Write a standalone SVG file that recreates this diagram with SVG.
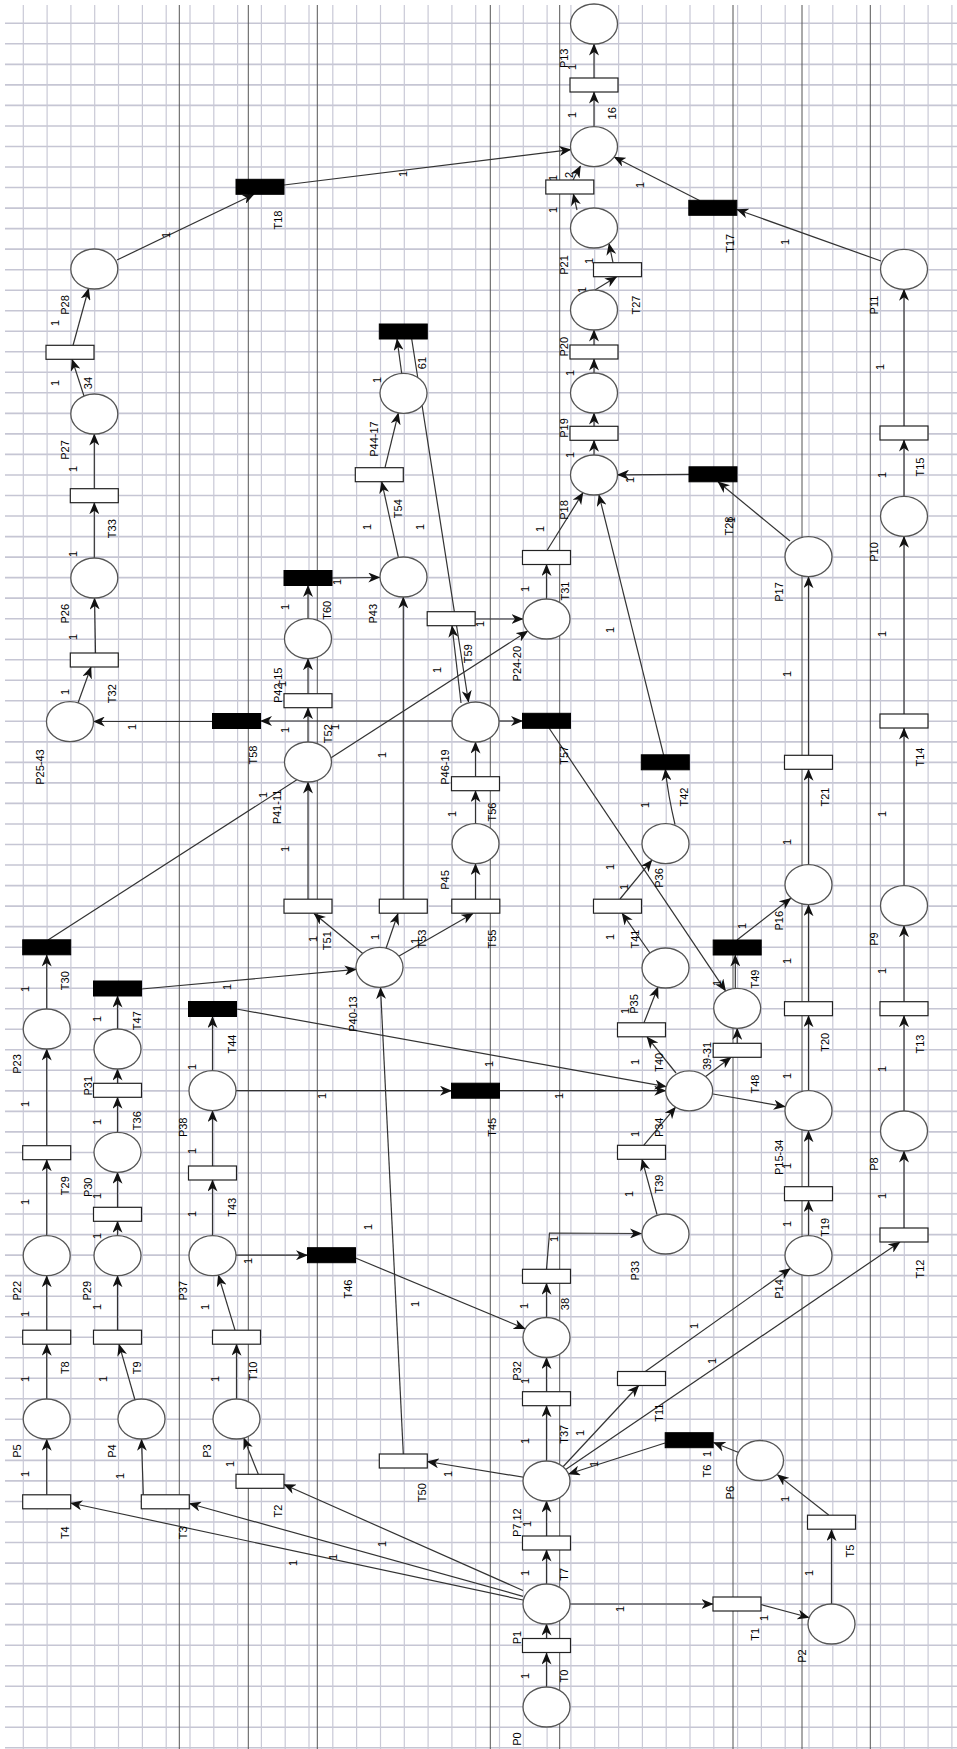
<svg xmlns="http://www.w3.org/2000/svg" width="957" height="1749" viewBox="0 0 957 1749">
<defs>
<marker id="ah" viewBox="0 0 12 10" refX="11.5" refY="5" markerWidth="12" markerHeight="10" markerUnits="userSpaceOnUse" orient="auto"><path d="M0,0 L12,5 L0,10 L3.5,5 z" fill="#111"/></marker>
<style>
.gh{stroke:#c6c6d4;stroke-width:1.6;fill:none}
.gv{stroke:#c9c9d6;stroke-width:1.2;fill:none}
.dk{stroke:#555;stroke-width:1;fill:none}
.a{stroke:#333;stroke-width:1.2;fill:none;marker-end:url(#ah)}
.p{fill:#fff;stroke:#555;stroke-width:1.3}
.t{fill:#fff;stroke:#222;stroke-width:1.2}
.tb{fill:#000;stroke:#000;stroke-width:1}
text{font-family:"Liberation Sans",Arial,sans-serif;font-size:11px;fill:#000;text-anchor:middle;dominant-baseline:central}
</style>
</defs>
<rect width="957" height="1749" fill="#fff"/>
<g id="grid">
<path class="gh" d="M5 23.3h952M5 43.8h952M5 64.4h952M5 84.9h952M5 105.4h952M5 126h952M5 146.5h952M5 167h952M5 187.5h952M5 208.1h952M5 228.6h952M5 249.1h952M5 269.7h952M5 290.2h952M5 310.7h952M5 331.3h952M5 351.8h952M5 372.3h952M5 392.8h952M5 413.4h952M5 433.9h952M5 454.4h952M5 475h952M5 495.5h952M5 516h952M5 536.6h952M5 557.1h952M5 577.6h952M5 598.1h952M5 618.7h952M5 639.2h952M5 659.7h952M5 680.3h952M5 700.8h952M5 721.3h952M5 741.9h952M5 762.4h952M5 782.9h952M5 803.4h952M5 824h952M5 844.5h952M5 865h952M5 885.6h952M5 906.1h952M5 926.6h952M5 947.2h952M5 967.7h952M5 988.2h952M5 1008.7h952M5 1029.3h952M5 1049.8h952M5 1070.3h952M5 1090.9h952M5 1111.4h952M5 1131.9h952M5 1152.5h952M5 1173h952M5 1193.5h952M5 1214h952M5 1234.6h952M5 1255.1h952M5 1275.6h952M5 1296.2h952M5 1316.7h952M5 1337.2h952M5 1357.8h952M5 1378.3h952M5 1398.8h952M5 1419.3h952M5 1439.9h952M5 1460.4h952M5 1480.9h952M5 1501.5h952M5 1522h952M5 1542.5h952M5 1563.1h952M5 1583.6h952M5 1604.1h952M5 1624.6h952M5 1645.2h952M5 1665.7h952M5 1686.2h952M5 1706.8h952M5 1727.3h952M5 1747.8h952"/>
<path class="gv" d="M23.3 5v1744M47.1 5v1744M70.9 5v1744M94.7 5v1744M118.5 5v1744M142.4 5v1744M166.2 5v1744M190 5v1744M213.8 5v1744M237.6 5v1744M261.4 5v1744M285.2 5v1744M309 5v1744M332.8 5v1744M356.6 5v1744M380.5 5v1744M404.3 5v1744M428.1 5v1744M451.9 5v1744M475.7 5v1744M499.5 5v1744M523.3 5v1744M547.1 5v1744M570.9 5v1744M594.7 5v1744M618.6 5v1744M642.4 5v1744M666.2 5v1744M690 5v1744M713.8 5v1744M737.6 5v1744M761.4 5v1744M785.2 5v1744M809 5v1744M832.8 5v1744M856.7 5v1744M880.5 5v1744M904.3 5v1744M928.1 5v1744M951.9 5v1744"/>
<path class="dk" d="M179.3 5v1744M248.3 5v1744M317.3 5v1744M490.3 5v1744M559.7 5v1744M733 5v1744M802 5v1744M870.3 5v1744"/>
</g>
<g id="connectors">
<path class="a" d="M546.5 1707L546.5 1653"/>
<path class="a" d="M546.5 1645.7L546.5 1624"/>
<path class="a" d="M546.5 1604L546.5 1550"/>
<path class="a" d="M546.5 1543L546.5 1501"/>
<path class="a" d="M546.5 1481L546.5 1405.7"/>
<path class="a" d="M546.5 1398.7L546.5 1357.5"/>
<path class="a" d="M546.5 1337.5L546.5 1283.3"/>
<path class="a" d="M546.5 1269L549.5 1233L641.5 1233.5"/>
<path class="a" d="M546.5 1604L713 1604"/>
<path class="a" d="M761 1604.5L809 1617.5"/>
<path class="a" d="M831.5 1624L831.5 1529.5"/>
<path class="a" d="M828.7 1515L777.3 1474.6"/>
<path class="a" d="M760 1461L713.5 1442.5"/>
<path class="a" d="M665 1443L568.5 1474"/>
<path class="a" d="M560 1470L638.7 1385.5"/>
<path class="a" d="M645.3 1371.5L790.2 1268.5"/>
<path class="a" d="M562 1472L900 1242"/>
<path class="a" d="M546.5 1481L427.3 1461.5"/>
<path class="a" d="M403.3 1454L380.5 987.5"/>
<path class="a" d="M523 1590.5L284 1484.5"/>
<path class="a" d="M523 1596.3L189.3 1503.5"/>
<path class="a" d="M523 1600L70.7 1503"/>
<path class="a" d="M258.3 1474.3L243.8 1438"/>
<path class="a" d="M143.3 1494.8L141.5 1439.3"/>
<path class="a" d="M46.7 1494.8L46.7 1439.3"/>
<path class="a" d="M46.7 1399.3L46.7 1344.2"/>
<path class="a" d="M135 1400L119 1344.2"/>
<path class="a" d="M236.5 1399.3L236.5 1344.2"/>
<path class="a" d="M46.7 1330.2L46.7 1275.7"/>
<path class="a" d="M117.5 1330.2L117.5 1275.7"/>
<path class="a" d="M235 1330.2L218.3 1275"/>
<path class="a" d="M46.7 1235.7L46.7 1159.7"/>
<path class="a" d="M46.7 1145.7L46.7 1049"/>
<path class="a" d="M46.7 1009L46.7 955"/>
<path class="a" d="M48 940L527.8 631.1"/>
<path class="a" d="M117.5 1235.7L117.5 1221.3"/>
<path class="a" d="M117.5 1207.3L117.5 1172.3"/>
<path class="a" d="M117.5 1132.3L117.5 1097.3"/>
<path class="a" d="M117.5 1083.3L117.5 1069"/>
<path class="a" d="M117.5 1029L117.5 996"/>
<path class="a" d="M141.5 989L356.2 969.4"/>
<path class="a" d="M212.5 1235.7L212.5 1180"/>
<path class="a" d="M212.5 1166L212.5 1110.7"/>
<path class="a" d="M212.5 1070.7L212.5 1016.5"/>
<path class="a" d="M236.5 1009L666.2 1086.6"/>
<path class="a" d="M236 1090.7L451.5 1090.7"/>
<path class="a" d="M499.5 1090.7L665.7 1090.7"/>
<path class="a" d="M236 1255.2L307.5 1255.2"/>
<path class="a" d="M355.5 1258L525.2 1328.7"/>
<path class="a" d="M379.5 967.3L314 913.5"/>
<path class="a" d="M379.5 967.3L398 913.5"/>
<path class="a" d="M379.5 967.3L473 913.5"/>
<path class="a" d="M308 899L308 782"/>
<path class="a" d="M403.3 899L403.3 597"/>
<path class="a" d="M475.5 899L475.5 863.7"/>
<path class="a" d="M475.5 823.7L475.5 790.7"/>
<path class="a" d="M475.5 776.7L475.5 742"/>
<path class="a" d="M499 721L522.5 721"/>
<path class="a" d="M452 721L260.5 721"/>
<path class="a" d="M212.5 721.5L93.3 721.5"/>
<path class="a" d="M308 742L308 707.7"/>
<path class="a" d="M308 693.7L308 658.7"/>
<path class="a" d="M308 618.7L308 585.5"/>
<path class="a" d="M331.8 578L379.8 577.5"/>
<path class="a" d="M398.3 557L381.7 481.7"/>
<path class="a" d="M385 467.7L398.4 413"/>
<path class="a" d="M401.7 373.3L397 339"/>
<path class="a" d="M411.7 339L468.5 702"/>
<path class="a" d="M461 703L452 625.7"/>
<path class="a" d="M475.2 619L523 619"/>
<path class="a" d="M546.5 599L546.5 564.5"/>
<path class="a" d="M547 550.5L583 492.7"/>
<path class="a" d="M663.7 755.3L598.9 494.7"/>
<path class="a" d="M675 824.5Q668 795 665.3 769.3"/>
<path class="a" d="M620 899L651.9 860.1"/>
<path class="a" d="M650 953L622 913.2"/>
<path class="a" d="M644 1022.8L658 987"/>
<path class="a" d="M676 1073L647 1036.8"/>
<path class="a" d="M705 1077L731 1057.3"/>
<path class="a" d="M737.2 1043.3L737.2 1028.3"/>
<path class="a" d="M735.3 988.3L735.3 955"/>
<path class="a" d="M737 940L790.8 898.2"/>
<path class="a" d="M549 728L725.6 990.9"/>
<path class="a" d="M713 1094L785.2 1106.7"/>
<path class="a" d="M808.5 1235.7L808.5 1200.7"/>
<path class="a" d="M808.5 1186.7L808.5 1130.7"/>
<path class="a" d="M808.5 1090.7L808.5 1015.7"/>
<path class="a" d="M808.5 1001.7L808.5 904.7"/>
<path class="a" d="M808.5 864.7L808.5 769.3"/>
<path class="a" d="M808.5 755.3L808.5 576.7"/>
<path class="a" d="M790 541L718 481.8"/>
<path class="a" d="M689 474.3L617.5 474.8"/>
<path class="a" d="M657 1214.5L642 1159.3"/>
<path class="a" d="M643.7 1145.3L675.6 1107.1"/>
<path class="a" d="M904 1228L904 1151"/>
<path class="a" d="M904 1111L904 1015.7"/>
<path class="a" d="M904 1001.7L904 925.7"/>
<path class="a" d="M904 885.7L904 728"/>
<path class="a" d="M904 714L904 536.3"/>
<path class="a" d="M904 496.3L904 440"/>
<path class="a" d="M904 426L904 289.3"/>
<path class="a" d="M881 261L736.8 209.5"/>
<path class="a" d="M700 200.7L614.1 157"/>
<path class="a" d="M284 185L570.8 149.6"/>
<path class="a" d="M117 260L254 194.3"/>
<path class="a" d="M73 345.5L88.6 288.5"/>
<path class="a" d="M84 396L72 359.3"/>
<path class="a" d="M94.3 488.7L94.3 434"/>
<path class="a" d="M94.3 558L94.3 502.7"/>
<path class="a" d="M95.5 653L94.5 598"/>
<path class="a" d="M78 703L91 667"/>
<path class="a" d="M594 126.7L594 92"/>
<path class="a" d="M594 78L594 44"/>
<path class="a" d="M573 180L580.5 166"/>
<path class="a" d="M577 210L573.3 194"/>
<path class="a" d="M613 262.7L609 243.5"/>
<path class="a" d="M595 290L616.7 276.7"/>
<path class="a" d="M594 373L594 359"/>
<path class="a" d="M594 345L594 330"/>
<path class="a" d="M594 455L594 440.3"/>
<path class="a" d="M594 426.3L594 413"/>
<g id="weights">
<text x="55" y="323" transform="rotate(-90 55 323)">1</text>
<text x="55" y="383" transform="rotate(-90 55 383)">1</text>
<text x="166" y="235" transform="rotate(-90 166 235)">1</text>
<text x="403" y="174" transform="rotate(-90 403 174)">1</text>
<text x="377" y="380" transform="rotate(-90 377 380)">1</text>
<text x="572" y="115" transform="rotate(-90 572 115)">1</text>
<text x="572" y="67" transform="rotate(-90 572 67)">1</text>
<text x="640" y="185" transform="rotate(-90 640 185)">1</text>
<text x="785" y="242" transform="rotate(-90 785 242)">1</text>
<text x="880" y="367" transform="rotate(-90 880 367)">1</text>
<text x="553" y="178" transform="rotate(-90 553 178)">1</text>
<text x="553" y="210" transform="rotate(-90 553 210)">1</text>
<text x="589" y="261" transform="rotate(-90 589 261)">1</text>
<text x="582" y="290" transform="rotate(-90 582 290)">1</text>
<text x="570" y="373" transform="rotate(-90 570 373)">1</text>
<text x="570" y="455" transform="rotate(-90 570 455)">1</text>
<text x="73" y="469" transform="rotate(-90 73 469)">1</text>
<text x="73" y="554" transform="rotate(-90 73 554)">1</text>
<text x="73" y="637" transform="rotate(-90 73 637)">1</text>
<text x="65" y="692" transform="rotate(-90 65 692)">1</text>
<text x="132" y="727" transform="rotate(-90 132 727)">1</text>
<text x="285" y="607" transform="rotate(-90 285 607)">1</text>
<text x="337" y="582" transform="rotate(-90 337 582)">1</text>
<text x="367" y="527" transform="rotate(-90 367 527)">1</text>
<text x="420" y="527" transform="rotate(-90 420 527)">1</text>
<text x="285" y="730" transform="rotate(-90 285 730)">1</text>
<text x="335" y="727" transform="rotate(-90 335 727)">1</text>
<text x="282" y="684" transform="rotate(-90 282 684)">1</text>
<text x="263" y="795" transform="rotate(-90 263 795)">1</text>
<text x="285" y="849" transform="rotate(-90 285 849)">1</text>
<text x="382" y="755" transform="rotate(-90 382 755)">1</text>
<text x="437" y="670" transform="rotate(-90 437 670)">1</text>
<text x="452" y="814" transform="rotate(-90 452 814)">1</text>
<text x="540" y="529" transform="rotate(-90 540 529)">1</text>
<text x="525" y="589" transform="rotate(-90 525 589)">1</text>
<text x="480" y="624" transform="rotate(-90 480 624)">1</text>
<text x="610" y="630" transform="rotate(-90 610 630)">1</text>
<text x="645" y="805" transform="rotate(-90 645 805)">1</text>
<text x="610" y="867" transform="rotate(-90 610 867)">1</text>
<text x="787" y="674" transform="rotate(-90 787 674)">1</text>
<text x="787" y="842" transform="rotate(-90 787 842)">1</text>
<text x="882" y="475" transform="rotate(-90 882 475)">1</text>
<text x="882" y="634" transform="rotate(-90 882 634)">1</text>
<text x="882" y="814" transform="rotate(-90 882 814)">1</text>
<text x="630" y="480" transform="rotate(-90 630 480)">1</text>
<text x="731" y="520" transform="rotate(-90 731 520)">1</text>
<text x="25" y="989" transform="rotate(-90 25 989)">1</text>
<text x="25" y="1104" transform="rotate(-90 25 1104)">1</text>
<text x="25" y="1202" transform="rotate(-90 25 1202)">1</text>
<text x="97" y="1019" transform="rotate(-90 97 1019)">1</text>
<text x="97" y="1122" transform="rotate(-90 97 1122)">1</text>
<text x="97" y="1196" transform="rotate(-90 97 1196)">1</text>
<text x="97" y="1236" transform="rotate(-90 97 1236)">1</text>
<text x="192" y="1067" transform="rotate(-90 192 1067)">1</text>
<text x="192" y="1151" transform="rotate(-90 192 1151)">1</text>
<text x="192" y="1214" transform="rotate(-90 192 1214)">1</text>
<text x="227" y="987" transform="rotate(-90 227 987)">1</text>
<text x="322" y="1096" transform="rotate(-90 322 1096)">1</text>
<text x="248" y="1261" transform="rotate(-90 248 1261)">1</text>
<text x="368" y="1227" transform="rotate(-90 368 1227)">1</text>
<text x="415" y="1304" transform="rotate(-90 415 1304)">1</text>
<text x="313" y="939" transform="rotate(-90 313 939)">1</text>
<text x="375" y="937" transform="rotate(-90 375 937)">1</text>
<text x="415" y="941" transform="rotate(-90 415 941)">1</text>
<text x="489" y="1064" transform="rotate(-90 489 1064)">1</text>
<text x="559" y="1096" transform="rotate(-90 559 1096)">1</text>
<text x="610" y="937" transform="rotate(-90 610 937)">1</text>
<text x="624" y="887" transform="rotate(-90 624 887)">1</text>
<text x="635" y="1062" transform="rotate(-90 635 1062)">1</text>
<text x="625" y="1011" transform="rotate(-90 625 1011)">1</text>
<text x="717" y="983" transform="rotate(-90 717 983)">1</text>
<text x="742" y="926" transform="rotate(-90 742 926)">1</text>
<text x="787" y="961" transform="rotate(-90 787 961)">1</text>
<text x="787" y="1076" transform="rotate(-90 787 1076)">1</text>
<text x="787" y="1166" transform="rotate(-90 787 1166)">1</text>
<text x="787" y="1224" transform="rotate(-90 787 1224)">1</text>
<text x="882" y="971" transform="rotate(-90 882 971)">1</text>
<text x="882" y="1069" transform="rotate(-90 882 1069)">1</text>
<text x="882" y="1196" transform="rotate(-90 882 1196)">1</text>
<text x="629" y="1194" transform="rotate(-90 629 1194)">1</text>
<text x="635" y="1134" transform="rotate(-90 635 1134)">1</text>
<text x="554" y="1239" transform="rotate(-90 554 1239)">1</text>
<text x="524" y="1306" transform="rotate(-90 524 1306)">1</text>
<text x="25" y="1314" transform="rotate(-90 25 1314)">1</text>
<text x="25" y="1379" transform="rotate(-90 25 1379)">1</text>
<text x="103" y="1379" transform="rotate(-90 103 1379)">1</text>
<text x="215" y="1379" transform="rotate(-90 215 1379)">1</text>
<text x="25" y="1474" transform="rotate(-90 25 1474)">1</text>
<text x="120" y="1476" transform="rotate(-90 120 1476)">1</text>
<text x="230" y="1464" transform="rotate(-90 230 1464)">1</text>
<text x="293" y="1563" transform="rotate(-90 293 1563)">1</text>
<text x="333" y="1557" transform="rotate(-90 333 1557)">1</text>
<text x="382" y="1544" transform="rotate(-90 382 1544)">1</text>
<text x="448" y="1474" transform="rotate(-90 448 1474)">1</text>
<text x="205" y="1307" transform="rotate(-90 205 1307)">1</text>
<text x="97" y="1307" transform="rotate(-90 97 1307)">1</text>
<text x="525" y="1676" transform="rotate(-90 525 1676)">1</text>
<text x="525" y="1573" transform="rotate(-90 525 1573)">1</text>
<text x="525" y="1441" transform="rotate(-90 525 1441)">1</text>
<text x="525" y="1381" transform="rotate(-90 525 1381)">1</text>
<text x="527" y="1524" transform="rotate(-90 527 1524)">1</text>
<text x="620" y="1609" transform="rotate(-90 620 1609)">1</text>
<text x="764" y="1618" transform="rotate(-90 764 1618)">1</text>
<text x="809" y="1573" transform="rotate(-90 809 1573)">1</text>
<text x="785" y="1499" transform="rotate(-90 785 1499)">1</text>
<text x="707" y="1454" transform="rotate(-90 707 1454)">1</text>
<text x="594" y="1464" transform="rotate(-90 594 1464)">1</text>
<text x="580" y="1433" transform="rotate(-90 580 1433)">1</text>
<text x="694" y="1326" transform="rotate(-90 694 1326)">1</text>
<text x="712" y="1361" transform="rotate(-90 712 1361)">1</text>
</g>
</g>
<g id="places">
<g id="P0"><ellipse class="p" cx="546.5" cy="1707" rx="23.5" ry="20"/><text x="517" y="1739" transform="rotate(-90 517 1739)">P0</text></g>
<g id="P1"><ellipse class="p" cx="546.5" cy="1604" rx="23.5" ry="20"/><text x="517" y="1637.5" transform="rotate(-90 517 1637.5)">P1</text></g>
<g id="P2"><ellipse class="p" cx="831.5" cy="1624" rx="23.5" ry="20"/><text x="802" y="1656" transform="rotate(-90 802 1656)">P2</text></g>
<g id="P3"><ellipse class="p" cx="236.5" cy="1419" rx="23.5" ry="20"/><text x="206.7" y="1451" transform="rotate(-90 206.7 1451)">P3</text></g>
<g id="P4"><ellipse class="p" cx="141.5" cy="1419" rx="23.5" ry="20"/><text x="111.7" y="1451" transform="rotate(-90 111.7 1451)">P4</text></g>
<g id="P5"><ellipse class="p" cx="46.7" cy="1419" rx="23.5" ry="20"/><text x="16.7" y="1451" transform="rotate(-90 16.7 1451)">P5</text></g>
<g id="P6"><ellipse class="p" cx="760" cy="1460.5" rx="23.5" ry="20"/><text x="730.3" y="1492.7" transform="rotate(-90 730.3 1492.7)">P6</text></g>
<g id="P7_12"><ellipse class="p" cx="546.5" cy="1481" rx="23.5" ry="20"/><text x="517" y="1522.7" transform="rotate(-90 517 1522.7)">P7,12</text></g>
<g id="P8"><ellipse class="p" cx="904" cy="1131" rx="23.5" ry="20"/><text x="873.7" y="1164" transform="rotate(-90 873.7 1164)">P8</text></g>
<g id="P9"><ellipse class="p" cx="904" cy="905.7" rx="23.5" ry="20"/><text x="873.7" y="939" transform="rotate(-90 873.7 939)">P9</text></g>
<g id="P10"><ellipse class="p" cx="904" cy="516.3" rx="23.5" ry="20"/><text x="873.7" y="552" transform="rotate(-90 873.7 552)">P10</text></g>
<g id="P11"><ellipse class="p" cx="904" cy="269.3" rx="23.5" ry="20"/><text x="873.7" y="305" transform="rotate(-90 873.7 305)">P11</text></g>
<g id="P12"><ellipse class="p" cx="594" cy="146.7" rx="23.5" ry="20"/><text x="569" y="175" transform="rotate(-90 569 175)">2</text></g>
<g id="P13"><ellipse class="p" cx="594" cy="24" rx="23.5" ry="20"/><text x="564.3" y="58.3" transform="rotate(-90 564.3 58.3)">P13</text></g>
<g id="P14"><ellipse class="p" cx="808.5" cy="1255.7" rx="23.5" ry="20"/><text x="778.7" y="1289" transform="rotate(-90 778.7 1289)">P14</text></g>
<g id="P15-34"><ellipse class="p" cx="808.5" cy="1110.7" rx="23.5" ry="20"/><text x="778.7" y="1157.3" transform="rotate(-90 778.7 1157.3)">P15-34</text></g>
<g id="P16"><ellipse class="p" cx="808.5" cy="884.7" rx="23.5" ry="20"/><text x="778.7" y="920.7" transform="rotate(-90 778.7 920.7)">P16</text></g>
<g id="P17"><ellipse class="p" cx="808.5" cy="556.7" rx="23.5" ry="20"/><text x="778.7" y="592" transform="rotate(-90 778.7 592)">P17</text></g>
<g id="P18"><ellipse class="p" cx="594" cy="475" rx="23.5" ry="20"/><text x="564.3" y="510" transform="rotate(-90 564.3 510)">P18</text></g>
<g id="P19"><ellipse class="p" cx="594" cy="393" rx="23.5" ry="20"/><text x="564.3" y="428" transform="rotate(-90 564.3 428)">P19</text></g>
<g id="P20"><ellipse class="p" cx="594" cy="310" rx="23.5" ry="20"/><text x="564.3" y="346.7" transform="rotate(-90 564.3 346.7)">P20</text></g>
<g id="P21"><ellipse class="p" cx="594" cy="228" rx="23.5" ry="20"/><text x="564.3" y="265" transform="rotate(-90 564.3 265)">P21</text></g>
<g id="P22"><ellipse class="p" cx="46.7" cy="1255.7" rx="23.5" ry="20"/><text x="16.7" y="1290.7" transform="rotate(-90 16.7 1290.7)">P22</text></g>
<g id="P23"><ellipse class="p" cx="46.7" cy="1029" rx="23.5" ry="20"/><text x="16.7" y="1064" transform="rotate(-90 16.7 1064)">P23</text></g>
<g id="P24-20"><ellipse class="p" cx="546.5" cy="619" rx="23.5" ry="20"/><text x="517" y="663.7" transform="rotate(-90 517 663.7)">P24-20</text></g>
<g id="P25-43"><ellipse class="p" cx="70" cy="721.7" rx="23.5" ry="20"/><text x="40" y="767" transform="rotate(-90 40 767)">P25-43</text></g>
<g id="P26"><ellipse class="p" cx="94.3" cy="578" rx="23.5" ry="20"/><text x="65" y="613.7" transform="rotate(-90 65 613.7)">P26</text></g>
<g id="P27"><ellipse class="p" cx="94.3" cy="414" rx="23.5" ry="20"/><text x="65" y="450" transform="rotate(-90 65 450)">P27</text></g>
<g id="P28"><ellipse class="p" cx="94.3" cy="269" rx="23.5" ry="20"/><text x="65" y="305" transform="rotate(-90 65 305)">P28</text></g>
<g id="P29"><ellipse class="p" cx="117.5" cy="1255.7" rx="23.5" ry="20"/><text x="87.3" y="1290.7" transform="rotate(-90 87.3 1290.7)">P29</text></g>
<g id="P30"><ellipse class="p" cx="117.5" cy="1152.3" rx="23.5" ry="20"/><text x="88.3" y="1187.3" transform="rotate(-90 88.3 1187.3)">P30</text></g>
<g id="P31"><ellipse class="p" cx="117.5" cy="1049" rx="23.5" ry="20"/><text x="88.3" y="1085.7" transform="rotate(-90 88.3 1085.7)">P31</text></g>
<g id="P32"><ellipse class="p" cx="546.5" cy="1337.5" rx="23.5" ry="20"/><text x="517" y="1371" transform="rotate(-90 517 1371)">P32</text></g>
<g id="P33"><ellipse class="p" cx="665.5" cy="1234" rx="23.5" ry="20"/><text x="635.3" y="1270.7" transform="rotate(-90 635.3 1270.7)">P33</text></g>
<g id="P34"><ellipse class="p" cx="689.2" cy="1090.8" rx="23.5" ry="20"/><text x="658.7" y="1127.3" transform="rotate(-90 658.7 1127.3)">P34</text></g>
<g id="P35"><ellipse class="p" cx="665.5" cy="968" rx="23.5" ry="20"/><text x="633.7" y="1004" transform="rotate(-90 633.7 1004)">P35</text></g>
<g id="P36"><ellipse class="p" cx="665.5" cy="843.7" rx="23.5" ry="20"/><text x="659" y="878" transform="rotate(-90 659 878)">P36</text></g>
<g id="P37"><ellipse class="p" cx="212.5" cy="1255.7" rx="23.5" ry="20"/><text x="183.3" y="1290.7" transform="rotate(-90 183.3 1290.7)">P37</text></g>
<g id="P38"><ellipse class="p" cx="212.5" cy="1090.7" rx="23.5" ry="20"/><text x="183.3" y="1127.3" transform="rotate(-90 183.3 1127.3)">P38</text></g>
<g id="P39-31"><ellipse class="p" cx="737.2" cy="1008.3" rx="23.5" ry="20"/><text x="707" y="1056" transform="rotate(-90 707 1056)">39-31</text></g>
<g id="P40-13"><ellipse class="p" cx="379.5" cy="967.3" rx="23.5" ry="20"/><text x="353.3" y="1014" transform="rotate(-90 353.3 1014)">P40-13</text></g>
<g id="P41-11"><ellipse class="p" cx="308" cy="762" rx="23.5" ry="20"/><text x="276.7" y="807" transform="rotate(-90 276.7 807)">P41-11</text></g>
<g id="P42-15"><ellipse class="p" cx="308" cy="638.7" rx="23.5" ry="20"/><text x="278" y="685.3" transform="rotate(-90 278 685.3)">P42-15</text></g>
<g id="P43"><ellipse class="p" cx="403.5" cy="577" rx="23.5" ry="20"/><text x="373.3" y="613.7" transform="rotate(-90 373.3 613.7)">P43</text></g>
<g id="P44-17"><ellipse class="p" cx="403.5" cy="393.3" rx="23.5" ry="20"/><text x="374" y="439" transform="rotate(-90 374 439)">P44-17</text></g>
<g id="P45"><ellipse class="p" cx="475.5" cy="843.7" rx="23.5" ry="20"/><text x="445" y="880" transform="rotate(-90 445 880)">P45</text></g>
<g id="P46-19"><ellipse class="p" cx="475.5" cy="722" rx="23.5" ry="20"/><text x="445" y="767" transform="rotate(-90 445 767)">P46-19</text></g>
</g>
<g id="transitions">
<g id="T0"><rect class="t" x="522.5" y="1638.5" width="48" height="14"/><text x="564.3" y="1676" transform="rotate(-90 564.3 1676)">T0</text></g>
<g id="T1"><rect class="t" x="713" y="1597" width="48" height="14"/><text x="755.3" y="1634.3" transform="rotate(-90 755.3 1634.3)">T1</text></g>
<g id="T2"><rect class="t" x="236" y="1474.3" width="48" height="14"/><text x="278.3" y="1511" transform="rotate(-90 278.3 1511)">T2</text></g>
<g id="T3"><rect class="t" x="141.3" y="1494.8" width="48" height="14"/><text x="183.3" y="1532.7" transform="rotate(-90 183.3 1532.7)">T3</text></g>
<g id="T4"><rect class="t" x="22.7" y="1494.8" width="48" height="14"/><text x="65" y="1532.7" transform="rotate(-90 65 1532.7)">T4</text></g>
<g id="T5"><rect class="t" x="807.5" y="1515.2" width="48" height="14"/><text x="850.3" y="1551" transform="rotate(-90 850.3 1551)">T5</text></g>
<g id="T6"><rect class="tb" x="665.2" y="1432.7" width="48" height="15"/><text x="707" y="1471" transform="rotate(-90 707 1471)">T6</text></g>
<g id="T7"><rect class="t" x="522.5" y="1536" width="48" height="14"/><text x="564.3" y="1574.3" transform="rotate(-90 564.3 1574.3)">T7</text></g>
<g id="T8"><rect class="t" x="22.7" y="1330.2" width="48" height="14"/><text x="65" y="1367.7" transform="rotate(-90 65 1367.7)">T8</text></g>
<g id="T9"><rect class="t" x="93.5" y="1330.2" width="48" height="14"/><text x="136.7" y="1367.7" transform="rotate(-90 136.7 1367.7)">T9</text></g>
<g id="T10"><rect class="t" x="212.5" y="1330.2" width="48" height="14"/><text x="253.3" y="1371" transform="rotate(-90 253.3 1371)">T10</text></g>
<g id="T11"><rect class="t" x="617.5" y="1371.5" width="48" height="14"/><text x="658.7" y="1412.7" transform="rotate(-90 658.7 1412.7)">T11</text></g>
<g id="T12"><rect class="t" x="880" y="1228" width="48" height="14"/><text x="920.3" y="1269" transform="rotate(-90 920.3 1269)">T12</text></g>
<g id="T13"><rect class="t" x="880" y="1001.7" width="48" height="14"/><text x="920.3" y="1044" transform="rotate(-90 920.3 1044)">T13</text></g>
<g id="T14"><rect class="t" x="880" y="714" width="48" height="14"/><text x="920.3" y="757" transform="rotate(-90 920.3 757)">T14</text></g>
<g id="T15"><rect class="t" x="880" y="426" width="48" height="14"/><text x="920.3" y="467" transform="rotate(-90 920.3 467)">T15</text></g>
<g id="T16"><rect class="t" x="570" y="78" width="48" height="14"/><text x="612" y="113.3" transform="rotate(-90 612 113.3)">16</text></g>
<g id="T17"><rect class="tb" x="688.8" y="200.3" width="48" height="15"/><text x="730.3" y="243.3" transform="rotate(-90 730.3 243.3)">T17</text></g>
<g id="T18"><rect class="tb" x="236" y="179.3" width="48" height="15"/><text x="278.3" y="220" transform="rotate(-90 278.3 220)">T18</text></g>
<g id="T19"><rect class="t" x="784.5" y="1186.7" width="48" height="14"/><text x="825.3" y="1227.3" transform="rotate(-90 825.3 1227.3)">T19</text></g>
<g id="T20"><rect class="t" x="784.5" y="1001.7" width="48" height="14"/><text x="825.3" y="1042.3" transform="rotate(-90 825.3 1042.3)">T20</text></g>
<g id="T21"><rect class="t" x="784.5" y="755.3" width="48" height="14"/><text x="825.3" y="797" transform="rotate(-90 825.3 797)">T21</text></g>
<g id="T22"><rect class="t" x="545.8" y="180" width="48" height="14"/></g>
<g id="T25"><rect class="t" x="570" y="426.3" width="48" height="14"/></g>
<g id="T26"><rect class="t" x="570" y="345" width="48" height="14"/></g>
<g id="T27"><rect class="t" x="593.5" y="262.7" width="48" height="14"/><text x="636.3" y="305" transform="rotate(-90 636.3 305)">T27</text></g>
<g id="T28"><rect class="tb" x="689" y="466.8" width="48" height="15"/><text x="729" y="526" transform="rotate(-90 729 526)">T28</text></g>
<g id="T29"><rect class="t" x="22.7" y="1145.7" width="48" height="14"/><text x="65" y="1185.7" transform="rotate(-90 65 1185.7)">T29</text></g>
<g id="T30"><rect class="tb" x="22.7" y="939.8" width="48" height="15"/><text x="65" y="980.7" transform="rotate(-90 65 980.7)">T30</text></g>
<g id="T31"><rect class="t" x="522.5" y="550.5" width="48" height="14"/><text x="565.3" y="591" transform="rotate(-90 565.3 591)">T31</text></g>
<g id="T32"><rect class="t" x="70.3" y="653" width="48" height="14"/><text x="111.7" y="693.7" transform="rotate(-90 111.7 693.7)">T32</text></g>
<g id="T33"><rect class="t" x="70.3" y="488.7" width="48" height="14"/><text x="111.7" y="528.7" transform="rotate(-90 111.7 528.7)">T33</text></g>
<g id="T34"><rect class="t" x="46" y="345.3" width="48" height="14"/><text x="88" y="383" transform="rotate(-90 88 383)">34</text></g>
<g id="T35"><rect class="t" x="93.5" y="1207.3" width="48" height="14"/></g>
<g id="T36"><rect class="t" x="93.5" y="1083.3" width="48" height="14"/><text x="136.7" y="1120.7" transform="rotate(-90 136.7 1120.7)">T36</text></g>
<g id="T37"><rect class="t" x="522.5" y="1391.7" width="48" height="14"/><text x="564.3" y="1434.3" transform="rotate(-90 564.3 1434.3)">T37</text></g>
<g id="T38"><rect class="t" x="522.5" y="1269.3" width="48" height="14"/><text x="565.3" y="1304" transform="rotate(-90 565.3 1304)">38</text></g>
<g id="T39"><rect class="t" x="617.5" y="1145.3" width="48" height="14"/><text x="658.7" y="1184" transform="rotate(-90 658.7 1184)">T39</text></g>
<g id="T40"><rect class="t" x="617.5" y="1022.8" width="48" height="14"/><text x="658.7" y="1062.3" transform="rotate(-90 658.7 1062.3)">T40</text></g>
<g id="T41"><rect class="t" x="593.5" y="899.2" width="48" height="14"/><text x="635.3" y="939" transform="rotate(-90 635.3 939)">T41</text></g>
<g id="T42"><rect class="tb" x="641.3" y="754.8" width="48" height="15"/><text x="683.7" y="797" transform="rotate(-90 683.7 797)">T42</text></g>
<g id="T43"><rect class="t" x="188.5" y="1166" width="48" height="14"/><text x="231.7" y="1207.3" transform="rotate(-90 231.7 1207.3)">T43</text></g>
<g id="T44"><rect class="tb" x="188.5" y="1001.5" width="48" height="15"/><text x="231.7" y="1044" transform="rotate(-90 231.7 1044)">T44</text></g>
<g id="T45"><rect class="tb" x="451.5" y="1083.2" width="48" height="15"/><text x="492" y="1127.3" transform="rotate(-90 492 1127.3)">T45</text></g>
<g id="T46"><rect class="tb" x="307.5" y="1247.7" width="48" height="15"/><text x="348.3" y="1289" transform="rotate(-90 348.3 1289)">T46</text></g>
<g id="T47"><rect class="tb" x="93.5" y="981" width="48" height="15"/><text x="136.7" y="1020.7" transform="rotate(-90 136.7 1020.7)">T47</text></g>
<g id="T48"><rect class="t" x="713.2" y="1043.3" width="48" height="14"/><text x="755.3" y="1084" transform="rotate(-90 755.3 1084)">T48</text></g>
<g id="T49"><rect class="tb" x="713.2" y="940" width="48" height="15"/><text x="755.3" y="979" transform="rotate(-90 755.3 979)">T49</text></g>
<g id="T50"><rect class="t" x="379.3" y="1454" width="48" height="14"/><text x="421.7" y="1492.7" transform="rotate(-90 421.7 1492.7)">T50</text></g>
<g id="T51"><rect class="t" x="284" y="899.2" width="48" height="14"/><text x="326.7" y="940.7" transform="rotate(-90 326.7 940.7)">T51</text></g>
<g id="T52"><rect class="t" x="284" y="693.7" width="48" height="14"/><text x="328" y="733.7" transform="rotate(-90 328 733.7)">T52</text></g>
<g id="T53"><rect class="t" x="379.3" y="899.2" width="48" height="14"/><text x="421.7" y="939" transform="rotate(-90 421.7 939)">T53</text></g>
<g id="T54"><rect class="t" x="355.3" y="467.7" width="48" height="14"/><text x="398.3" y="508.7" transform="rotate(-90 398.3 508.7)">T54</text></g>
<g id="T55"><rect class="t" x="451.8" y="899.2" width="48" height="14"/><text x="492" y="939" transform="rotate(-90 492 939)">T55</text></g>
<g id="T56"><rect class="t" x="451.5" y="776.7" width="48" height="14"/><text x="492" y="812" transform="rotate(-90 492 812)">T56</text></g>
<g id="T57"><rect class="tb" x="522.5" y="713.3" width="48" height="15"/><text x="564.3" y="755.3" transform="rotate(-90 564.3 755.3)">T57</text></g>
<g id="T58"><rect class="tb" x="212.5" y="713.5" width="48" height="15"/><text x="253.3" y="755" transform="rotate(-90 253.3 755)">T58</text></g>
<g id="T59"><rect class="t" x="427.2" y="611.7" width="48" height="14"/><text x="468.3" y="653.7" transform="rotate(-90 468.3 653.7)">T59</text></g>
<g id="T60"><rect class="tb" x="284" y="570.5" width="48" height="15"/><text x="326.7" y="610.3" transform="rotate(-90 326.7 610.3)">T60</text></g>
<g id="T61"><rect class="tb" x="379.3" y="324" width="48" height="15"/><text x="421.7" y="363" transform="rotate(-90 421.7 363)">61</text></g>
</g>
</svg>
